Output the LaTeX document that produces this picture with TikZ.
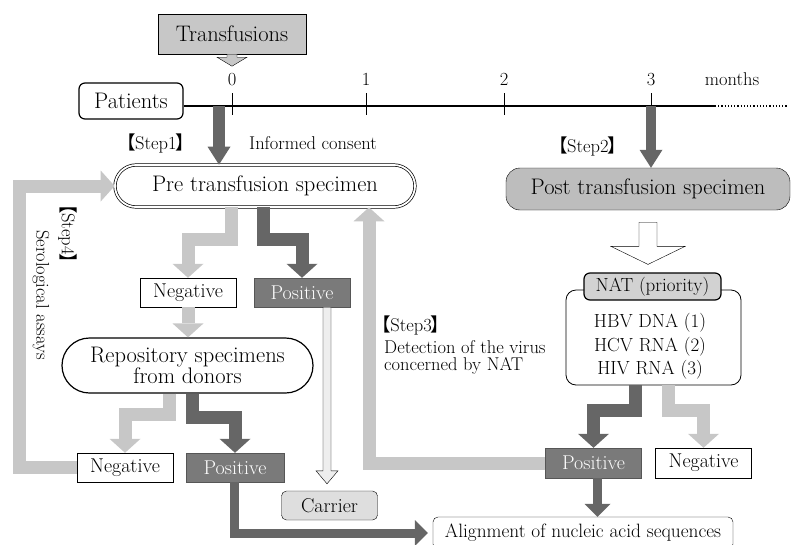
\documentclass[tikz,border=0pt]{standalone}
\usepackage{fontspec}
\newfontfamily\cjk{Noto Sans CJK SC}
\usetikzlibrary{arrows.meta,shapes.misc,calc,positioning}
\definecolor{ltg}{gray}{0.78}
\definecolor{dkg}{gray}{0.40}
\definecolor{posg}{gray}{0.48}
\definecolor{pstg}{gray}{0.74}
\definecolor{carg}{gray}{0.87}
% bracketed step label
\newcommand{\stp}[1]{{\cjk\hspace{-.45em}【\hspace{-.05em}}Step#1{\cjk\hspace{-.05em}】\hspace{-.45em}}}
% hollow arrow pointing down: from, to, shaft half, head half, head length, fill
\newcommand{\hollowdn}[6]{%
\draw[fill=#6,line join=miter] ($(#1)+(-#3,0)$) -- ($(#2)+(-#3,-#5)$) -- ($(#2)+(-#4,-#5)$)
 -- (#2) -- ($(#2)+(#4,-#5)$) -- ($(#2)+(#3,-#5)$) -- ($(#1)+(#3,0)$) -- cycle;}

\begin{document}
\begin{tikzpicture}[x=1pt,y=-1pt,
 big/.style={font=\fontsize{22.5}{19}\selectfont},
 lbl/.style={font=\fontsize{18.5}{17.5}\selectfont,inner sep=0pt},
 box/.style={draw,minimum width=96pt,minimum height=29pt,inner sep=0pt,font=\fontsize{20}{20}\selectfont},
 posbox/.style={box,fill=posg,draw=posg!70!black,text=white},
 lgfat/.style={draw=ltg,line width=13pt,line join=miter,-{Triangle[width=31pt,length=14pt,line width=0pt]}},
 dkfat/.style={lgfat,draw=dkg},
 steparr/.style={draw=dkg,line width=12pt,-{Triangle[width=23pt,length=18pt,line width=0pt]}},
 dkthin/.style={draw=dkg,line width=9pt,line join=miter,-{Triangle[width=26pt,length=13pt,line width=0pt]}}]
\useasboundingbox (0,0) rectangle (795,544);
\clip (0,0) rectangle (795,544);
%timeline
\node[draw,very thick,rounded corners=6pt,minimum width=104pt,minimum height=36pt,inner sep=0pt,big] (pat) at (131,101) {Patients};
\coordinate (tl) at (715,106);
\draw[very thick] (pat.east |- tl) -- (tl);
\draw[very thick,dotted] (tl) -- (787,106);
\foreach \x/\m in {232/0,366/1,504/2,651/3}
\draw[thick] (\x,93) -- (\x,115) node[lbl,pos=0,above=7pt] {\m};
\node[lbl] (mon) at (732,79) {months};
%transfusions
\node[draw,fill=ltg,minimum width=148pt,minimum height=40pt,inner sep=0pt,big] (trans) at (232,34) {Transfusions};
\coordinate (ta) at ([yshift=-12pt]trans.south);
\hollowdn{trans.south}{ta}{5}{15}{9}{ltg}
%specimens
\node[rounded rectangle,draw,double,double distance=1.8pt,line width=0.7pt,minimum width=300pt,minimum height=42pt,inner sep=0pt,big] (pre) at (265,186) {Pre transfusion specimen};
\node[draw,fill=pstg,rounded corners=14pt,minimum width=284pt,minimum height=42pt,inner sep=0pt,big] (post) at (648,189) {Post transfusion specimen};
\coordinate (s1) at (219,106);
\coordinate (s2) at (651,106);
\draw[steparr] (s1) -- (s1 |- pre.north);
\draw[steparr,line width=10pt] (s2) -- (s2 |- post.north);
\node[lbl] (st1) at (160,143) {\stp1};
\node[lbl] (ic) at (313,143) {Informed consent};
\node[lbl] (st2) at (592,146) {\stp2};
%NAT
\node[draw,thick,rounded corners=10pt,minimum width=175pt,minimum height=95pt] (nat) at (653.5,337.5) {};
\node[draw,very thick,fill=ltg!80!white,rounded corners=6pt,minimum width=137pt,minimum height=27pt,inner sep=0pt,font=\fontsize{19}{19}\selectfont] (natl) at (652.5,286.5) {NAT (priority)};
\foreach \t/\y [count=\i] in {{HBV DNA (1)}/323,{HCV RNA (2)}/347,{HIV RNA (3)}/370}
\node[font=\fontsize{19}{19}\selectfont,inner sep=0pt] (v\i) at (650,\y) {\t};
\coordinate (pa) at ([yshift=-12pt]post.south);
\coordinate (pb) at ($(natl.north -| pa)+(0,-8)$);
\hollowdn{pa}{pb}{9}{37}{18}{white}
%results
\node[box] (neg1) at (188,292.5) {Negative};
\node[posbox] (pos1) at (302,292.5) {Positive};
\node[rounded rectangle,draw,very thick,minimum width=251pt,minimum height=55pt,inner sep=0pt,align=center,big] (repo) at (187.5,365.5) {Repository specimens\\from donors};
\node[box,fill=carg,rounded corners=5pt] (car) at (329.5,505.5) {Carrier};
\node[box] (neg2) at (125,467.5) {Negative};
\node[posbox,minimum width=98pt] (pos2) at (235,467.5) {Positive};
\node[posbox,minimum height=30pt] (pos3) at (593.5,463) {Positive};
\node[box,minimum height=30pt] (neg3) at (703.5,463) {Negative};
\node[draw,rounded corners=5pt,minimum width=300pt,minimum height=32pt,inner sep=0pt,font=\fontsize{19.3}{20}\selectfont] (al) at (583,533) {Alignment of nucleic acid sequences};
%step labels
\node[lbl,anchor=west] (st3) at (381,325) {\stp3};
\node[lbl,anchor=north west,align=left] (det) at (384,340) {Detection of the virus\\concerned by NAT};
\node[lbl,rotate=-90] (st4) at (68,238) {\stp4};
\node[lbl,rotate=-90] (sero) at (41,295) {Serological assays};
%arrows
\draw[lgfat] ([xshift=-33.5pt]pre.south) |- ([yshift=38pt]neg1.north) -- (neg1.north);
\draw[dkfat] ([xshift=-1.5pt]pre.south) |- ([yshift=38pt]pos1.north) -- (pos1.north);
\draw[lgfat] (neg1.south) -- (neg1.south |- repo.north);
\coordinate (ca) at ([xshift=25pt]pos1.south);
\coordinate (cb) at ($(ca |- car.north)+(0,-7)$);
\hollowdn{ca}{cb}{4}{11}{13}{carg!50!white}
\draw[lgfat] ([xshift=-18.5pt]repo.south) |- ([yshift=38pt]neg2.north) -- (neg2.north);
\draw[dkfat] ([xshift=5pt]repo.south) |- ([yshift=35pt]pos2.north) -- (pos2.north);
\draw[dkthin] ([xshift=-1pt]pos2.south) |- ([xshift=-5pt]al.west);
\draw[dkfat] ([xshift=-18pt]nat.south) |- ([yshift=37pt]pos3.north) -- (pos3.north);
\draw[lgfat] ([xshift=15pt]nat.south) |- ([yshift=37pt]neg3.north) -- (neg3.north);
\coordinate (p3b) at ([xshift=4pt]pos3.south);
\draw[dkthin] (p3b) -- (p3b |- al.north);
\draw[lgfat] (pos3.west) -| ([xshift=104pt]pre.south);
\draw[lgfat] (neg2.west) -- ++(-57,0) |- (pre.west);
\end{tikzpicture}
\end{document}
